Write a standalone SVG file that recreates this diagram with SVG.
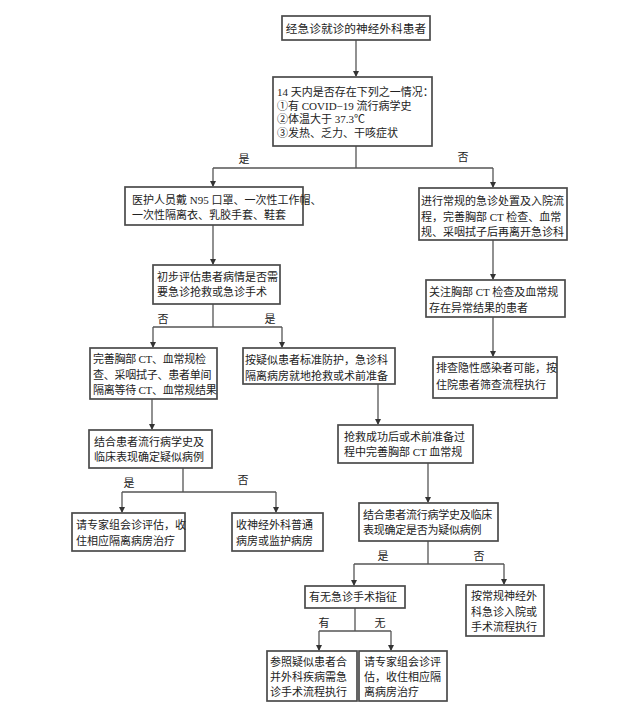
<svg xmlns="http://www.w3.org/2000/svg" width="620" height="715" viewBox="0 0 620 715">
<defs>
<marker id="ah" markerWidth="6" markerHeight="6" refX="5" refY="3" orient="auto" markerUnits="userSpaceOnUse">
<path d="M0,0 L6,3 L0,6 z" fill="#333"/>
</marker>
<style>
.box{fill:#fff;stroke:#4a4a4a;stroke-width:1.7}
.t{font-family:"Liberation Serif","Noto Sans CJK SC",serif;font-size:11px;fill:#222}
.tight{letter-spacing:-0.25px}
.lb{font-family:"Liberation Serif","Noto Sans CJK SC",serif;font-size:11px;fill:#222;text-anchor:middle}
.c{fill:none;stroke:#555;stroke-width:1.3}
.a{fill:none;stroke:#555;stroke-width:1.3;marker-end:url(#ah)}
</style>
</defs>
<rect width="620" height="715" fill="#fff"/>
<g id="connectors">
<path class="a" d="M356,40 V76"/>
<path class="c" d="M356,146 V168 M213,168 H493"/>
<path class="a" d="M213,168 V186"/>
<path class="a" d="M493,168 V187"/>
<path class="a" d="M213,225 V264"/>
<path class="a" d="M493,240 V279"/>
<path class="a" d="M493,317 V356"/>
<path class="c" d="M213,304 V327 M153,327 H282"/>
<path class="a" d="M153,327 V347"/>
<path class="a" d="M282,327 V347"/>
<path class="a" d="M152,399 V429"/>
<path class="c" d="M183,468 V492 M122,492 H276"/>
<path class="a" d="M122,492 V512"/>
<path class="a" d="M276,492 V512"/>
<path class="a" d="M378,384 V424"/>
<path class="a" d="M428,463 V502"/>
<path class="c" d="M428,541 V564 M354,564 H504"/>
<path class="a" d="M354,564 V585"/>
<path class="a" d="M504,564 V584"/>
<path class="c" d="M355,608 V631 M319,631 H391"/>
<path class="a" d="M319,631 V650"/>
<path class="a" d="M391,631 V650"/>
<text class="lb" x="244" y="163">是</text>
<text class="lb" x="463" y="161">否</text>
<text class="lb" x="163" y="323">否</text>
<text class="lb" x="270" y="323">是</text>
<text class="lb" x="129" y="487">是</text>
<text class="lb" x="243" y="484">否</text>
<text class="lb" x="383" y="560">是</text>
<text class="lb" x="479" y="560">否</text>
<text class="lb" x="324" y="627">有</text>
<text class="lb" x="380" y="627">无</text>
</g>
<g id="n1">
<rect class="box" x="282" y="16" width="148" height="24"/>
<text class="t" x="356" y="33" text-anchor="middle" style="font-size:11.7px">经急诊就诊的神经外科患者</text>
</g>
<g id="n2">
<rect class="box" x="273" y="77" width="159" height="69"/>
<text class="t" x="277" y="96">14 天内是否存在下列之一情况：</text>
<text class="t" x="277" y="110">①有 COVID−19 流行病学史</text>
<text class="t" x="277" y="123">②体温大于 37.3℃</text>
<text class="t" x="277" y="137">③发热、乏力、干咳症状</text>
</g>
<g id="n3">
<rect class="box" x="125" y="187" width="178" height="38"/>
<text class="t" x="132" y="204">医护人员戴 N95 口罩、一次性工作帽、</text>
<text class="t" x="132" y="219">一次性隔离衣、乳胶手套、鞋套</text>
</g>
<g id="n4">
<rect class="box" x="153" y="265" width="127" height="39"/>
<text class="t" x="157" y="281">初步评估患者病情是否需</text>
<text class="t" x="157" y="296">要急诊抢救或急诊手术</text>
</g>
<g id="r1">
<rect class="box" x="419" y="188" width="148" height="52"/>
<text class="t" x="421" y="205">进行常规的急诊处置及入院流</text>
<text class="t" x="421" y="221">程，完善胸部 CT 检查、血常</text>
<text class="t" x="421" y="236">规、采咽拭子后再离开急诊科</text>
</g>
<g id="r2">
<rect class="box" x="426" y="280" width="139" height="37"/>
<text class="t" x="429" y="296">关注胸部 CT 检查及血常规</text>
<text class="t" x="429" y="312">存在异常结果的患者</text>
</g>
<g id="r3">
<rect class="box" x="433" y="357" width="124" height="41"/>
<text class="t" x="436" y="372">排查隐性感染者可能，按</text>
<text class="t" x="436" y="389">住院患者筛查流程执行</text>
</g>
<g id="l1">
<rect class="box" x="90" y="348" width="127" height="51"/>
<text class="t tight" x="93" y="363">完善胸部 CT、血常规检</text>
<text class="t tight" x="93" y="379">查、采咽拭子、患者单间</text>
<text class="t tight" x="93" y="394">隔离等待 CT、血常规结果</text>
</g>
<g id="m1">
<rect class="box" x="243" y="348" width="152" height="36"/>
<text class="t" x="245" y="364">按疑似患者标准防护，急诊科</text>
<text class="t" x="245" y="380">隔离病房就地抢救或术前准备</text>
</g>
<g id="l2">
<rect class="box" x="89" y="430" width="123" height="38"/>
<text class="t" x="94" y="446">结合患者流行病学史及</text>
<text class="t" x="94" y="461">临床表现确定疑似病例</text>
</g>
<g id="m2">
<rect class="box" x="338" y="425" width="135" height="38"/>
<text class="t" x="344" y="441">抢救成功后或术前准备过</text>
<text class="t" x="344" y="456">程中完善胸部 CT 血常规</text>
</g>
<g id="l3">
<rect class="box" x="72" y="513" width="113" height="38"/>
<text class="t" x="76" y="529">请专家组会诊评估，收</text>
<text class="t" x="76" y="545">住相应隔离病房治疗</text>
</g>
<g id="l4">
<rect class="box" x="232" y="513" width="91" height="38"/>
<text class="t" x="236" y="529">收神经外科普通</text>
<text class="t" x="236" y="545">病房或监护病房</text>
</g>
<g id="m3">
<rect class="box" x="359" y="503" width="139" height="38"/>
<text class="t tight" x="363" y="519">结合患者流行病学史及临床</text>
<text class="t tight" x="363" y="534">表现确定是否为疑似病例</text>
</g>
<g id="m4">
<rect class="box" x="305" y="586" width="100" height="22"/>
<text class="t" x="309" y="601">有无急诊手术指征</text>
</g>
<g id="r4">
<rect class="box" x="466" y="585" width="78" height="51"/>
<text class="t" x="471" y="600">按常规神经外</text>
<text class="t" x="471" y="616">科急诊入院或</text>
<text class="t" x="471" y="631">手术流程执行</text>
</g>
<g id="b1">
<rect class="box" x="267" y="651" width="90" height="50"/>
<text class="t" x="270" y="666">参照疑似患者合</text>
<text class="t" x="270" y="681">并外科疾病需急</text>
<text class="t" x="270" y="696">诊手术流程执行</text>
</g>
<g id="b2">
<rect class="box" x="359" y="651" width="88" height="50"/>
<text class="t" x="364" y="666">请专家组会诊评</text>
<text class="t" x="364" y="681">估，收住相应隔</text>
<text class="t" x="364" y="696">离病房治疗</text>
</g>
</svg>
